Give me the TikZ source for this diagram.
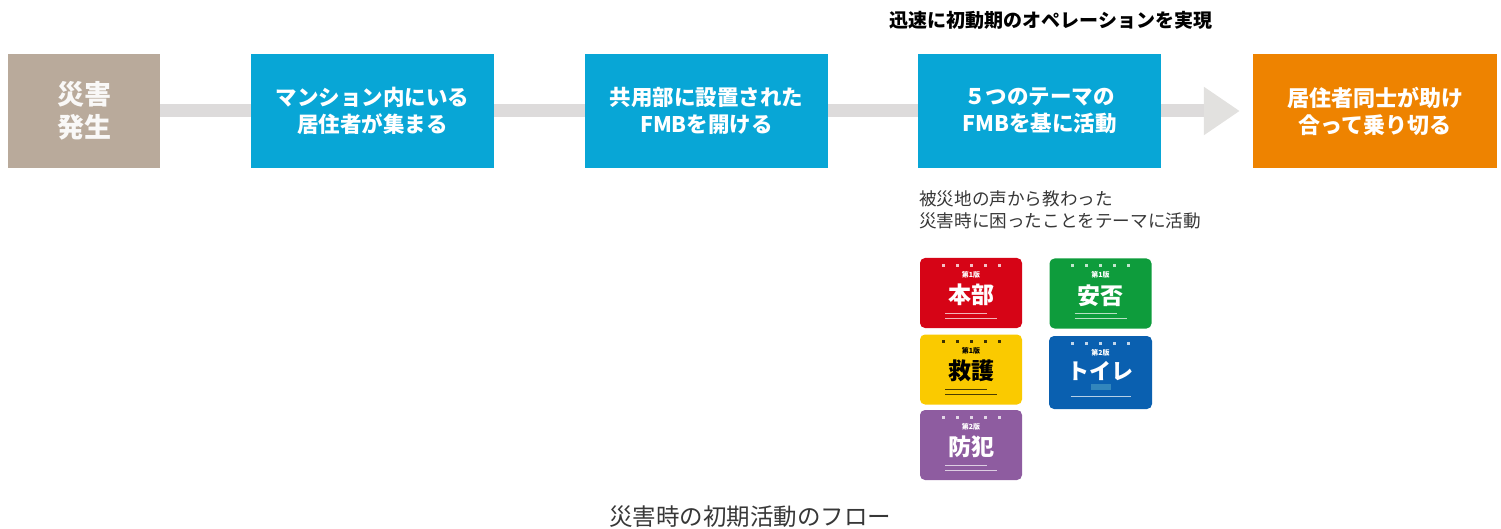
\documentclass[tikz,border=0pt]{standalone}
\usepackage{fontspec}
\newfontfamily\jp{Noto Sans CJK JP}
\usetikzlibrary{arrows.meta}
\definecolor{tanbox}{RGB}{185,170,155}
\definecolor{cyanbox}{RGB}{8,166,214}
\definecolor{orangebox}{RGB}{238,131,0}
\definecolor{bandgray}{RGB}{221,219,219}
\definecolor{headgray}{RGB}{226,225,223}
\definecolor{textgray}{RGB}{55,55,55}
\definecolor{cardred}{RGB}{214,4,22}
\definecolor{cardgreen}{RGB}{14,156,60}
\definecolor{cardyellow}{RGB}{250,202,0}
\definecolor{cardblue}{RGB}{10,96,176}
\definecolor{cardpurple}{RGB}{142,92,160}
\tikzset{
  flowbox/.style={draw=none, minimum height=114pt, inner sep=0pt, align=center, text=white,
    font=\jp\bfseries\fontsize{21.5}{27}\selectfont},
  band/.style={line width=13pt, draw=bandgray},
  card/.style={draw=none, rounded corners=5pt, minimum width=102pt, minimum height=70pt, inner sep=0pt},
  cardmain/.style={font=\jp\bfseries\fontsize{23}{24}\selectfont, inner sep=0pt},
  cardsub/.style={font=\jp\bfseries\fontsize{7}{7}\selectfont, inner sep=0pt},
}
\newcommand\fmbcard[7]{%
  \node[card, fill=#4] (#1) at (#2,#3) {};
  \foreach \i in {-2,...,2}
    \fill[#6, opacity=.75] ([shift={(\i*14-1.5,6)}]#1.north) rectangle ++(3,3);
  \node[cardsub, text=#6] at ([shift={(0,17)}]#1.north) {#7};
  \node[cardmain, text=#6] at ([shift={(0,37)}]#1.north) {#5};
  \draw[#6, opacity=.7, line width=0.6pt] ([shift={(-26,55)}]#1.north) -- ++(42,0);
  \draw[#6, opacity=.7, line width=0.6pt] ([shift={(-26,60)}]#1.north) -- ++(52,0);
}
\begin{document}
\begin{tikzpicture}[x=1pt,y=-1pt]
\useasboundingbox (0,0) rectangle (1501,529);
% flow boxes
\node[flowbox, fill=tanbox, minimum width=152pt, text=white!92!tanbox, font=\jp\bfseries\fontsize{27}{33}\selectfont] (b1) at (84,111) {災害\\発生};
\node[flowbox, fill=cyanbox, minimum width=243pt] (b2) at (372.5,111) {マンション内にいる\\居住者が集まる};
\node[flowbox, fill=cyanbox, minimum width=243pt] (b3) at (706.5,111) {共用部に設置された\\FMBを開ける};
\node[flowbox, fill=cyanbox, minimum width=243pt] (b4) at (1039.5,111) {５つのテーマの\\FMBを基に活動};
\node[flowbox, fill=orangebox, minimum width=244pt, font=\jp\bfseries\fontsize{22}{27}\selectfont] (b5) at (1375,111) {居住者同士が助け\\合って乗り切る};
% connectors
\draw[band] (b1.east) -- (b2.west);
\draw[band] (b2.east) -- (b3.west);
\draw[band] (b3.east) -- (b4.west);
\draw[band, -{Triangle[length=36pt,width=46pt,color=headgray,fill=headgray]}, shorten >=13pt] (b4.east) -- (b5.west);
% texts
\node[font=\jp\bfseries\fontsize{19}{22}\selectfont, text=black, inner sep=0pt] (top) at (1051,20) {迅速に初動期のオペレーションを実現};
\node[font=\jp\fontsize{17.6}{22}\selectfont, text=textgray, anchor=north west, align=left, inner sep=0pt] (note) at (919,190) {被災地の声から教わった\\災害時に困ったことをテーマに活動};
% cards
\fmbcard{c1}{971}{293}{cardred}{本部}{white}{第1版}
\fmbcard{c2}{1100.5}{293.5}{cardgreen}{安否}{white}{第1版}
\fmbcard{c3}{971}{369.5}{cardyellow}{救護}{black}{第1版}
\node[card, fill=cardblue, minimum width=103pt, minimum height=73pt] (c4) at (1100.5,372.5) {};
\foreach \i in {-2,...,2}
  \fill[white, opacity=.75] ([shift={(\i*14-1.5,6)}]c4.north) rectangle ++(3,3);
\node[cardsub, text=white] at ([shift={(0,17)}]c4.north) {第2版};
\node[cardmain, text=white, font=\jp\bfseries\fontsize{22}{24}\selectfont] at ([shift={(0,35)}]c4.north) {トイレ};
\fill[cyan!40!cardblue] ([shift={(-10,48)}]c4.north) rectangle ++(20,6);
\draw[white, opacity=.7, line width=0.6pt] ([shift={(-30,60)}]c4.north) -- ++(60,0);
\fmbcard{c5}{971}{445}{cardpurple}{防犯}{white}{第2版}
% caption
\node[font=\jp\fontsize{23.5}{26}\selectfont, text=textgray, inner sep=0pt] (cap) at (750,517) {災害時の初期活動のフロー};
\end{tikzpicture}
\end{document}
